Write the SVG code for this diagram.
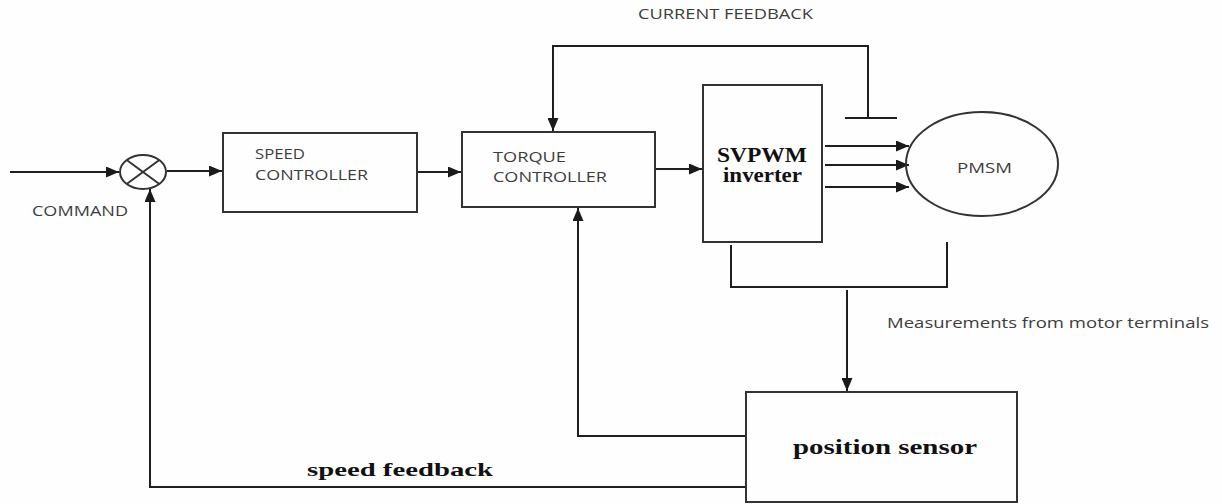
<svg xmlns="http://www.w3.org/2000/svg" width="1222" height="504" viewBox="0 0 1222 504">
  <defs>
    <marker id="arr" markerUnits="userSpaceOnUse" markerWidth="13" markerHeight="11" refX="13" refY="5.5" orient="auto">
      <path d="M0,0 L13,5.5 L0,11 Z" fill="#1a1a1a"/>
    </marker>
    <style>
      .box { fill: none; stroke: #333; stroke-width: 2; }
      .ln { fill: none; stroke: #1f1f1f; stroke-width: 2; }
      .arw { fill: none; stroke: #1f1f1f; stroke-width: 2; marker-end: url(#arr); }
      .sans { font-family: "Open Sans", "Liberation Sans", sans-serif; fill: #3d3d3d; font-size: 14px; }
      .serif { font-family: "Liberation Serif", "DejaVu Serif", serif; font-weight: bold; fill: #111; font-size: 20px; }
    </style>
  </defs>
  <rect x="0" y="0" width="1222" height="504" fill="#fefefe"/>

  <g id="connectors">
    <path class="arw" d="M10,172 H119"/>
    <path class="arw" d="M167,171 H222"/>
    <path class="arw" d="M417,172 H461"/>
    <path class="arw" d="M655,169 H702"/>
    <path class="arw" d="M868,117 V46 H553 V131"/>
    <path class="ln" d="M845,118 H897"/>
    <path class="arw" d="M825,146 H909"/>
    <path class="arw" d="M825,165 H909"/>
    <path class="arw" d="M825,187 H909"/>
    <path class="ln" d="M731,245 V287 H947 V242"/>
    <path class="arw" d="M847,290 V391"/>
    <path class="arw" d="M746,436 H578 V208"/>
    <path class="arw" d="M746,487 H150 V189"/>
  </g>

  <g id="sum">
    <ellipse cx="143" cy="172" rx="23" ry="17" class="box" stroke-width="1.5"/>
    <path class="box" stroke-width="1.5" d="M126.7,160 L159.3,184 M126.7,184 L159.3,160"/>
  </g>
  <text class="sans" x="32" y="216" textLength="96" lengthAdjust="spacingAndGlyphs">COMMAND</text>

  <g id="speed-controller">
    <rect class="box" x="223" y="133" width="194" height="79"/>
    <text class="sans" x="255" y="159" textLength="50" lengthAdjust="spacingAndGlyphs">SPEED</text>
    <text class="sans" x="255" y="180" textLength="113" lengthAdjust="spacingAndGlyphs">CONTROLLER</text>
  </g>

  <g id="torque-controller">
    <rect class="box" x="462" y="132" width="193" height="75"/>
    <text class="sans" x="493" y="162" textLength="73" lengthAdjust="spacingAndGlyphs">TORQUE</text>
    <text class="sans" x="493" y="182" textLength="114" lengthAdjust="spacingAndGlyphs">CONTROLLER</text>
  </g>

  <text class="sans" x="638" y="19" textLength="175" lengthAdjust="spacingAndGlyphs">CURRENT FEEDBACK</text>

  <g id="svpwm-inverter">
    <rect class="box" x="703" y="85" width="119" height="157"/>
    <text class="serif" x="717" y="162" textLength="90" lengthAdjust="spacingAndGlyphs">SVPWM</text>
    <text class="serif" x="723" y="182" textLength="79" lengthAdjust="spacingAndGlyphs">inverter</text>
  </g>

  <g id="pmsm">
    <ellipse class="box" cx="982" cy="164" rx="76" ry="52"/>
    <text class="sans" x="957" y="173" textLength="55" lengthAdjust="spacingAndGlyphs">PMSM</text>
  </g>

  <text class="sans" x="887" y="328" textLength="322" lengthAdjust="spacingAndGlyphs" style="font-size:15px">Measurements from motor terminals</text>

  <g id="position-sensor">
    <rect class="box" x="746" y="392" width="271" height="110"/>
    <text class="serif" x="793" y="454" textLength="184" lengthAdjust="spacingAndGlyphs">position sensor</text>
  </g>

  <text class="serif" x="307" y="476" textLength="186" lengthAdjust="spacingAndGlyphs" style="font-size:19px">speed feedback</text>
</svg>
